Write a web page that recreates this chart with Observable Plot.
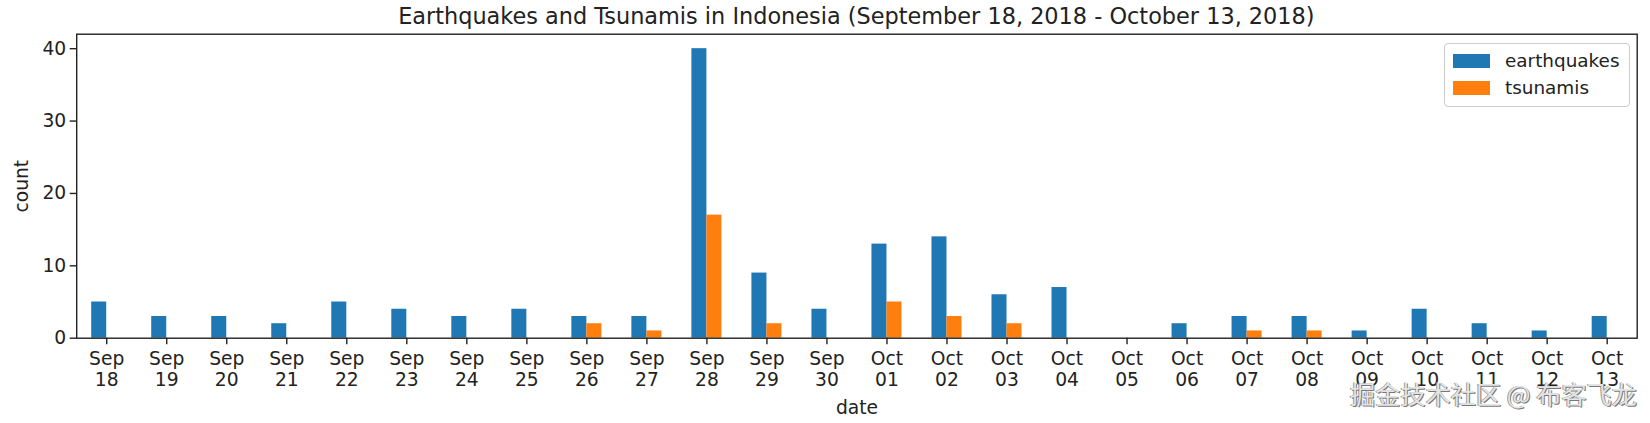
<!DOCTYPE html>
<html>
<head>
<meta charset="utf-8">
<script src="https://cdn.jsdelivr.net/npm/d3@7"></script>
<script src="https://cdn.jsdelivr.net/npm/@observablehq/plot@0.6"></script>
<style>
html,body{margin:0;padding:0;background:#fff;}
#wrap{position:relative;width:1650px;height:423px;overflow:hidden;font-family:"DejaVu Sans",sans-serif;color:#222;}
#title{position:absolute;left:76.4px;width:1560px;top:2px;text-align:center;font-size:22.4px;line-height:28px;color:#222;white-space:nowrap;}
#chart{position:absolute;left:0;top:0;}
#legend{position:absolute;left:1443.5px;top:42.5px;width:184px;height:62px;border:1px solid #ccc;border-radius:4px;background:rgba(255,255,255,.9);box-sizing:content-box;}
.row{position:absolute;left:8px;height:28px;display:flex;align-items:center;font-size:18.4px;color:#222;}
.sw{display:inline-block;width:37.5px;height:14px;margin-right:15px;}
#mark{position:absolute;left:1350px;top:377px;font-size:25.2px;line-height:32px;font-family:"Noto Sans CJK SC",sans-serif;color:#e4e4e4;white-space:nowrap;text-shadow:1px 1px 0 #777,-1px 0 0 #999;}
</style>
</head>
<body>
<div id="wrap">
<div id="chart"></div>
<div id="title"></div>
<div id="legend"></div>
<div id="mark"></div>
</div>
<script>
const titleText = "Earthquakes and Tsunamis in Indonesia (September 18, 2018 - October 13, 2018)";
const watermark = "掘金技术社区 @ 布客飞龙";
const dates = ["Sep 18","Sep 19","Sep 20","Sep 21","Sep 22","Sep 23","Sep 24","Sep 25","Sep 26","Sep 27","Sep 28","Sep 29","Sep 30","Oct 01","Oct 02","Oct 03","Oct 04","Oct 05","Oct 06","Oct 07","Oct 08","Oct 09","Oct 10","Oct 11","Oct 12","Oct 13"];
const earthquakes = [5,3,3,2,5,4,3,4,3,3,40,9,4,13,14,6,7,0,2,3,3,1,4,2,1,3];
const tsunamis    = [0,0,0,0,0,0,0,0,2,1,17,2,0,5,3,2,0,0,0,1,1,0,0,0,0,0];
const seriesNames = ["earthquakes","tsunamis"];
const seriesColors = ["#1f77b4","#ff7f0e"];
const yTicks = [0,10,20,30,40];

const quakeRows = dates.map((d,i)=>({date:d,count:earthquakes[i]}));
const tsunamiRows = dates.map((d,i)=>({date:d,count:tsunamis[i]}));

const plot = Plot.plot({
  width:1650,height:423,
  marginLeft:76.2,marginRight:13.3,marginTop:33.7,marginBottom:85.3,
  style:{fontFamily:"DejaVu Sans",fontSize:"18.7px",color:"#222",background:"transparent"},
  x:{domain:dates,padding:0,round:false,label:null},
  y:{domain:[0,42],label:null},
  marks:[
    Plot.barY(quakeRows,{x:"date",y:"count",fill:seriesColors[0],insetLeft:15,insetRight:30}),
    Plot.barY(tsunamiRows,{x:"date",y:"count",fill:seriesColors[1],insetLeft:30,insetRight:15}),
    Plot.frame({stroke:"#222",strokeWidth:1.4}),
    Plot.axisY({ticks:yTicks,tickSize:6.5,tickPadding:4,label:"count",labelAnchor:"center",labelArrow:"none",labelOffset:62,stroke:"#222",fill:"#222",strokeWidth:1.4,strokeOpacity:1}),
    Plot.axisX({tickSize:6.5,tickPadding:5,lineHeight:1.12,
      tickFormat:d=>d.replace(" ","\n"),label:"date",labelAnchor:"center",labelArrow:"none",labelOffset:76,stroke:"#222",fill:"#222",strokeWidth:1.4,strokeOpacity:1})
  ]
});
document.getElementById("chart").appendChild(plot);
document.getElementById("title").textContent = titleText;
document.getElementById("mark").textContent = watermark;
const legend = document.getElementById("legend");
seriesNames.forEach((n,i)=>{
  const r=document.createElement("div");r.className="row";r.style.top=(i===0?3:30)+"px";
  const s=document.createElement("span");s.className="sw";s.style.background=seriesColors[i];
  const t=document.createElement("span");t.textContent=n;
  r.append(s,t);legend.append(r);
});
</script>
</body>
</html>
